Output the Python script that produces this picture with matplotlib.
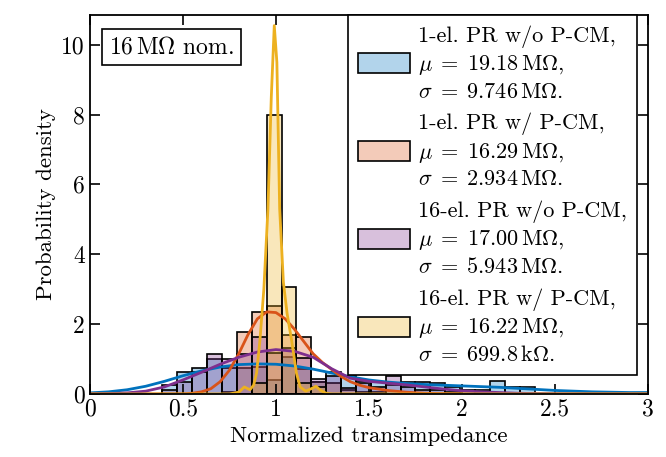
import matplotlib
matplotlib.use('Agg')
import matplotlib.pyplot as plt
from matplotlib.colors import to_rgba
import numpy as np

plt.rcParams['font.family'] = ['cmr10', 'Liberation Serif']
plt.rcParams['mathtext.fontset'] = 'cm'
plt.rcParams['axes.formatter.use_mathtext'] = True
plt.rcParams['axes.unicode_minus'] = False
plt.rcParams['font.size'] = 16

# histogram bins (normalized transimpedance)
bin_start = 0.39
bin_width = 0.08

# bar heights (probability density) per bin
h_1el_wo = [0.26, 0.62, 0.75, 0.99, 0.74, 0.75, 0.78, 0.40, 1.05, 0.71, 0.35, 0.64, 0.50,
            0.38, 0.33, 0.25, 0.35, 0.35, 0.30, 0.20, 0.12, 0.12, 0.38, 0.20, 0.20]
h_1el_w = [0.00, 0.00, 0.00, 0.00, 0.05, 1.76, 2.34, 2.52, 1.70, 1.64, 0.35, 0.30, 0.10,
           0.05, 0.05, 0.00, 0.00, 0.00, 0.00, 0.00, 0.00, 0.00, 0.00, 0.00, 0.00]
h_16el_wo = [0.11, 0.33, 0.64, 1.13, 1.00, 1.13, 1.63, 1.18, 1.31, 1.02, 0.42, 0.50, 0.17,
             0.30, 0.20, 0.50, 0.20, 0.12, 0.10, 0.05, 0.00, 0.00, 0.00, 0.00, 0.00]
h_16el_w = [0.00, 0.00, 0.00, 0.00, 0.00, 0.00, 0.30, 8.00, 3.05, 0.30, 0.20, 0.00, 0.00,
            0.00, 0.00, 0.00, 0.00, 0.00, 0.00, 0.00, 0.00, 0.00, 0.00, 0.00, 0.00]

# density curves
x_blue = [0, 0.1, 0.2, 0.3, 0.4, 0.5, 0.6, 0.7, 0.8, 0.9, 1.0, 1.1, 1.2, 1.3, 1.4, 1.5,
          1.6, 1.7, 1.8, 1.9, 2.0, 2.1, 2.2, 2.3, 2.4, 2.5, 2.6, 2.7, 2.8, 2.9, 3.0]
y_blue = [0.03, 0.06, 0.12, 0.22, 0.36, 0.52, 0.66, 0.77, 0.84, 0.86, 0.85, 0.80, 0.71,
          0.60, 0.49, 0.40, 0.34, 0.30, 0.27, 0.25, 0.23, 0.21, 0.19, 0.16, 0.13, 0.10,
          0.08, 0.06, 0.05, 0.04, 0.04]

x_orange = [0, 0.4, 0.5, 0.55, 0.6, 0.65, 0.7, 0.75, 0.8, 0.85, 0.9, 0.95, 1.0, 1.05,
            1.1, 1.15, 1.2, 1.25, 1.3, 1.35, 1.4, 1.45, 1.5, 1.6, 1.7, 1.8, 1.9, 2.0, 3.0]
y_orange = [0, 0, 0.0, 0.02, 0.06, 0.15, 0.35, 0.68, 1.15, 1.70, 2.15, 2.35, 2.33, 2.15,
            1.85, 1.50, 1.15, 0.90, 0.70, 0.50, 0.35, 0.25, 0.18, 0.10, 0.05, 0.02, 0.01,
            0.0, 0.0]

x_purple = [0, 0.1, 0.2, 0.3, 0.4, 0.5, 0.6, 0.7, 0.8, 0.9, 1.0, 1.1, 1.2, 1.3, 1.4,
            1.5, 1.6, 1.7, 1.8, 1.9, 2.0, 2.1, 2.2, 2.3, 2.4, 2.6, 3.0]
y_purple = [0.0, 0.01, 0.03, 0.08, 0.20, 0.40, 0.62, 0.85, 1.05, 1.20, 1.27, 1.22, 1.05,
            0.72, 0.45, 0.36, 0.31, 0.26, 0.20, 0.14, 0.09, 0.06, 0.04, 0.02, 0.01, 0.0, 0.0]

x_yellow = [0, 0.75, 0.80, 0.83, 0.86, 0.88, 0.896, 0.914, 0.935, 0.957, 0.975, 0.991,
            1.005, 1.02, 1.04, 1.06, 1.084, 1.11, 1.13, 1.16, 1.19, 1.215, 1.24, 1.27, 1.3, 3.0]
y_yellow = [0, 0.0, 0.05, 0.20, 0.12, 0.25, 0.60, 1.54, 3.00, 5.30, 8.50, 10.55, 9.50,
            5.30, 3.20, 2.30, 1.54, 0.60, 0.20, 0.08, 0.15, 0.22, 0.10, 0.02, 0.0, 0.0]

labels = [
    '1-el. PR w/o P-CM,\n$\\mu\\;=\\;19.18\\,\\mathrm{M\\Omega}$,\n$\\sigma\\;=\\;9.746\\,\\mathrm{M\\Omega}$.',
    '1-el. PR w/ P-CM,\n$\\mu\\;=\\;16.29\\,\\mathrm{M\\Omega}$,\n$\\sigma\\;=\\;2.934\\,\\mathrm{M\\Omega}$.',
    '16-el. PR w/o P-CM,\n$\\mu\\;=\\;17.00\\,\\mathrm{M\\Omega}$,\n$\\sigma\\;=\\;5.943\\,\\mathrm{M\\Omega}$.',
    '16-el. PR w/ P-CM,\n$\\mu\\;=\\;16.22\\,\\mathrm{M\\Omega}$,\n$\\sigma\\;=\\;699.8\\,\\mathrm{k\\Omega}$.',
]
colors = ['#0072BD', '#D95319', '#7E2F8E', '#EDB120']

fig = plt.figure(figsize=(6.66, 4.57), dpi=100)
ax = fig.add_axes([0.135, 0.138, 0.838, 0.829])

heights = [h_1el_wo, h_1el_w, h_16el_wo, h_16el_w]
curves = [(x_blue, y_blue), (x_orange, y_orange), (x_purple, y_purple), (x_yellow, y_yellow)]

for h, c, lab in zip(heights, colors, labels):
    edges = bin_start + bin_width * np.arange(len(h))
    ax.bar(edges, h, width=bin_width, align='edge', facecolor=to_rgba(c, 0.3),
           edgecolor='black', linewidth=1.2, label=lab)

for (xc, yc), c in zip(curves, colors):
    ax.plot(xc, yc, color=c, linewidth=2, solid_capstyle='round')

ax.set_xlim(0, 3)
ax.set_ylim(0, 10.85)
ax.set_xticks([0, 0.5, 1, 1.5, 2, 2.5, 3])
ax.set_xticklabels(['0', '0.5', '1', '1.5', '2', '2.5', '3'])
ax.set_yticks([0, 2, 4, 6, 8, 10])
ax.set_yticklabels(['0', '2', '4', '6', '8', '10'])
ax.tick_params(direction='in', top=True, right=True, length=7, width=1.2, labelsize=17)
for s in ax.spines.values():
    s.set_linewidth(1.3)

ax.set_xlabel('Normalized transimpedance', fontsize=16.5)
ax.set_ylabel('Probability density', fontsize=16.5)

ax.text(0.035, 0.945, '16$\\,\\mathrm{M\\Omega}$ nom.', transform=ax.transAxes, fontsize=17,
        va='top', ha='left',
        bbox=dict(boxstyle='square,pad=0.3', facecolor='white', edgecolor='black', linewidth=1.2))

leg = ax.legend(loc='upper right', bbox_to_anchor=(0.98, 1.0), fontsize=16, fancybox=False,
                edgecolor='black', framealpha=1, handlelength=2.35, handleheight=1.0,
                handletextpad=0.36, labelspacing=0.5, borderaxespad=0.0, borderpad=0.45)
leg.get_frame().set_linewidth(1.2)
for t in leg.get_texts():
    t.set_linespacing(1.32)

fig.savefig('out.png', dpi=100)
